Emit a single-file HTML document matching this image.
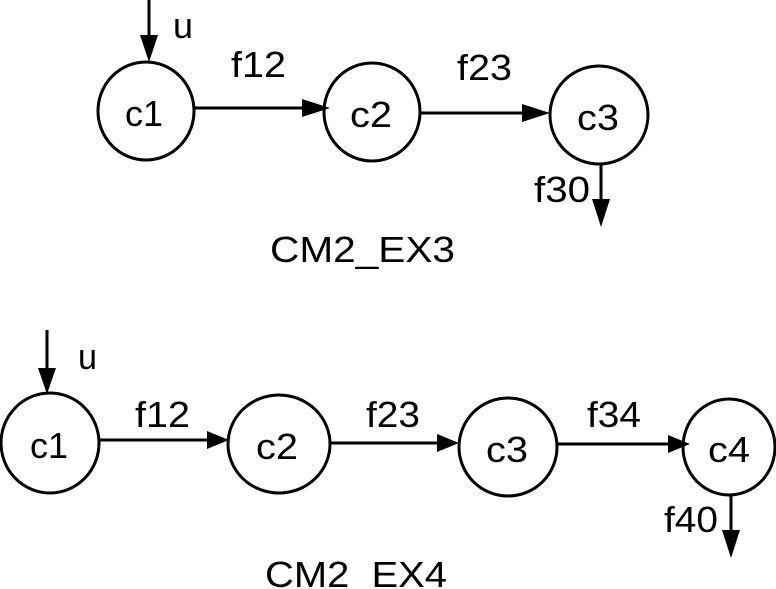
<!DOCTYPE html>
<html><head><meta charset="utf-8"><style>
html,body{margin:0;padding:0;background:#fff;}
svg{display:block;}
text{font-family:"Liberation Sans",Arial,sans-serif;font-size:36px;fill:#000;}
</style></head><body>
<svg width="776" height="589" viewBox="0 0 776 589" xmlns="http://www.w3.org/2000/svg">
<g fill="none" stroke="#000" stroke-width="3">
<ellipse cx="146" cy="111" rx="48" ry="49"/>
<ellipse cx="372" cy="112" rx="48" ry="49"/>
<ellipse cx="599" cy="115" rx="49" ry="49"/>
<line x1="149" y1="0" x2="149" y2="40"/>
<line x1="195" y1="108" x2="305" y2="108"/>
<line x1="420" y1="113" x2="525" y2="113"/>
<line x1="601" y1="164" x2="601" y2="202"/>

<ellipse cx="50" cy="443" rx="49" ry="50"/>
<ellipse cx="279" cy="444" rx="51" ry="49"/>
<ellipse cx="508" cy="447" rx="49" ry="49"/>
<ellipse cx="729" cy="447" rx="46" ry="48"/>
<line x1="47" y1="330" x2="47" y2="370"/>
<line x1="100" y1="440" x2="210" y2="440"/>
<line x1="330" y1="443" x2="440" y2="443"/>
<line x1="557" y1="444" x2="670" y2="444"/>
<line x1="731" y1="495" x2="731" y2="532"/>
</g>
<g fill="#000">
<polygon points="140,35 158,35 149,62"/>
<polygon points="302,99 302,117 330,108"/>
<polygon points="522,104 522,122 550,113"/>
<polygon points="592,199 610,199 601,227"/>
<polygon points="38,368 56,368 47,394"/>
<polygon points="207,431 207,449 229,440"/>
<polygon points="437,434 437,452 459,443"/>
<polygon points="668,435 668,453 690,444"/>
<polygon points="722,530 740,530 731,558"/>
</g>
<text x="173" y="38" textLength="20" lengthAdjust="spacingAndGlyphs">u</text>
<text x="125" y="126" textLength="38" lengthAdjust="spacingAndGlyphs">c1</text>
<text x="350" y="127" textLength="42" lengthAdjust="spacingAndGlyphs">c2</text>
<text x="577" y="130" textLength="42" lengthAdjust="spacingAndGlyphs">c3</text>
<text x="231" y="77" textLength="55" lengthAdjust="spacingAndGlyphs">f12</text>
<text x="457" y="80" textLength="55" lengthAdjust="spacingAndGlyphs">f23</text>
<text x="534" y="202" textLength="56" lengthAdjust="spacingAndGlyphs">f30</text>
<text x="270" y="262" textLength="185" lengthAdjust="spacingAndGlyphs">CM2_EX3</text>

<text x="78" y="369" textLength="19" lengthAdjust="spacingAndGlyphs">u</text>
<text x="30" y="458" textLength="38" lengthAdjust="spacingAndGlyphs">c1</text>
<text x="256" y="459" textLength="42" lengthAdjust="spacingAndGlyphs">c2</text>
<text x="486" y="462" textLength="42" lengthAdjust="spacingAndGlyphs">c3</text>
<text x="708" y="462" textLength="42" lengthAdjust="spacingAndGlyphs">c4</text>
<text x="135" y="427" textLength="55" lengthAdjust="spacingAndGlyphs">f12</text>
<text x="366" y="427" textLength="54" lengthAdjust="spacingAndGlyphs">f23</text>
<text x="587" y="427" textLength="54" lengthAdjust="spacingAndGlyphs">f34</text>
<text x="664" y="532" textLength="54" lengthAdjust="spacingAndGlyphs">f40</text>
<text x="265" y="587" textLength="182" lengthAdjust="spacingAndGlyphs">CM2_EX4</text>
</svg>
</body></html>
